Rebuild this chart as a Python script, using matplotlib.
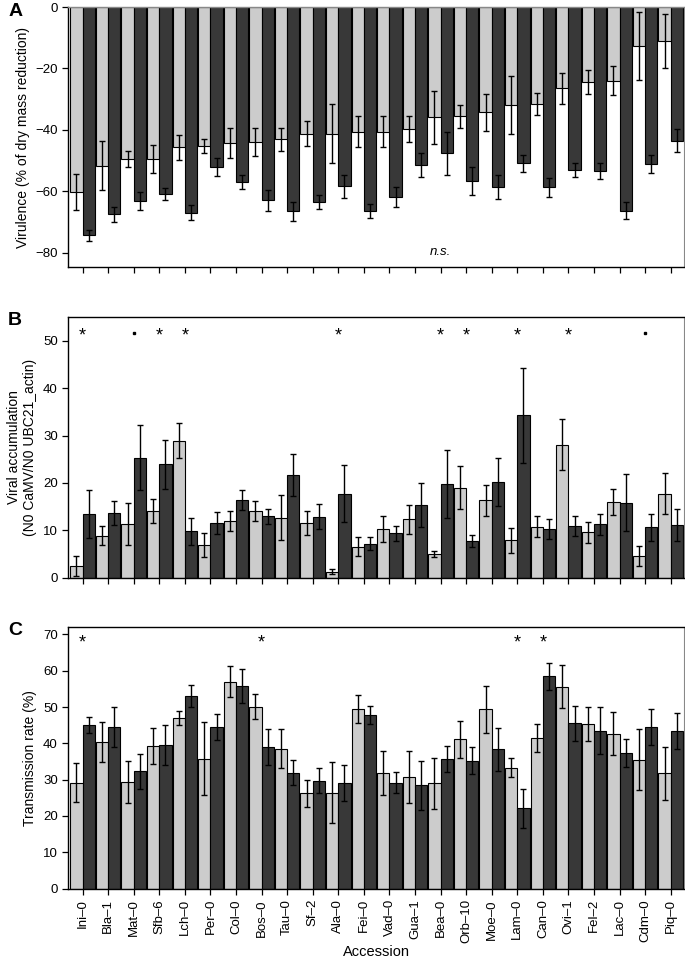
import numpy as np
import matplotlib
matplotlib.use("Agg")
import matplotlib.pyplot as plt

plt.rcParams["font.family"] = ["Liberation Sans", "DejaVu Sans"]

accessions = ["Ini–0", "Bla–1", "Mat–0", "Sfb–6", "Lch–0", "Per–0", "Col–0", "Bos–0",
              "Tau–0", "Sf–2", "Ala–0", "Fei–0", "Vad–0", "Gua–1", "Bea–0", "Orb–10",
              "Moe–0", "Lam–0", "Can–0", "Ovi–1", "Fel–2", "Lac–0", "Cdm–0", "Piq–0"]

# Panel A: virulence
vir_light = [-60.1, -51.6, -49.4, -49.4, -45.7, -45.2, -44.2, -43.9, -43.1, -41.2, -41.2, -40.5,
             -40.5, -39.6, -35.9, -35.6, -34.3, -31.9, -31.6, -26.5, -24.4, -24.0, -12.7, -11.1]
vir_light_err = [5.8, 8.0, 2.6, 4.5, 4.1, 2.4, 4.8, 4.5, 3.8, 4.1, 9.6, 5.1,
                 4.9, 4.3, 8.6, 3.8, 6.0, 9.3, 3.6, 5.0, 4.0, 4.7, 11.1, 8.7]
vir_dark = [-74.3, -67.5, -63.1, -60.9, -66.9, -52.0, -56.9, -62.9, -66.4, -63.5, -58.3, -66.3,
            -61.8, -51.4, -47.6, -56.6, -58.5, -50.9, -58.6, -53.0, -53.3, -66.3, -51.0, -43.5]
vir_dark_err = [1.7, 2.5, 3.0, 2.0, 2.4, 2.9, 2.3, 3.4, 3.1, 2.2, 3.8, 2.3,
                3.4, 4.0, 7.0, 4.5, 3.9, 2.7, 3.1, 2.4, 2.5, 2.8, 2.9, 3.8]

# Panel B: viral accumulation
acc_light = [2.5, 8.9, 11.3, 14.0, 28.9, 6.9, 12.0, 14.0, 12.7, 11.5, 1.3, 6.5,
             10.3, 12.3, 5.0, 19.0, 16.3, 7.9, 10.8, 28.1, 9.6, 16.0, 4.5, 17.7]
acc_light_err = [2.1, 2.0, 4.5, 2.5, 3.7, 2.5, 2.1, 2.1, 4.8, 2.5, 0.5, 2.0,
                 2.7, 3.0, 0.7, 4.6, 3.2, 2.6, 2.3, 5.4, 2.2, 2.7, 2.1, 4.3]
acc_dark = [13.4, 13.6, 25.3, 23.9, 9.8, 11.6, 16.4, 13.0, 21.7, 12.9, 17.7, 7.2,
            9.4, 15.3, 19.7, 7.7, 20.2, 34.3, 10.2, 11.0, 11.3, 15.8, 10.6, 11.1]
acc_dark_err = [5.1, 2.5, 6.9, 5.1, 2.8, 2.3, 2.1, 1.6, 4.5, 2.7, 6.0, 1.4,
                1.6, 4.6, 7.2, 1.3, 5.0, 10.0, 2.1, 2.1, 2.2, 6.0, 2.8, 3.3]
acc_marks = {"Ini–0": "*", "Mat–0": ".", "Sfb–6": "*", "Lch–0": "*", "Ala–0": "*",
             "Bea–0": "*", "Orb–10": "*", "Lam–0": "*", "Ovi–1": "*", "Cdm–0": "."}

# Panel C: transmission rate
tr_light = [29.2, 40.3, 29.4, 39.2, 46.9, 35.8, 57.0, 50.1, 38.5, 26.2, 26.4, 49.4,
            31.9, 30.8, 29.0, 41.1, 49.4, 33.3, 41.4, 55.6, 45.4, 42.7, 35.5, 31.7]
tr_light_err = [5.4, 5.5, 5.7, 5.0, 1.9, 10.0, 4.3, 3.4, 5.4, 3.7, 8.4, 3.8,
                6.1, 7.1, 7.0, 5.0, 6.5, 2.6, 3.8, 5.9, 4.7, 6.0, 8.4, 7.2]
tr_dark = [45.0, 44.6, 32.3, 39.5, 53.1, 44.6, 55.7, 39.0, 31.9, 29.7, 29.0, 47.7,
           29.2, 28.4, 35.6, 35.2, 38.4, 22.1, 58.5, 45.5, 43.5, 37.3, 44.5, 43.4]
tr_dark_err = [2.2, 5.5, 4.9, 5.5, 3.0, 3.6, 4.7, 4.9, 3.5, 3.4, 5.0, 2.5,
               2.8, 6.7, 3.6, 3.7, 5.9, 5.3, 3.7, 4.9, 6.5, 3.8, 5.0, 5.0]
tr_marks = {"Ini–0": "*", "Bos–0": "*", "Lam–0": "*", "Can–0": "*"}

LIGHT = "#cccccc"
DARK = "#383838"
x = np.arange(len(accessions))
w = 0.48


def draw_bars(ax, light, light_err, dark, dark_err):
    kw = dict(width=w, edgecolor="black", linewidth=0.8, zorder=2)
    ax.bar(x - w / 2, light, color=LIGHT, **kw)
    ax.bar(x + w / 2, dark, color=DARK, **kw)
    ekw = dict(fmt="none", ecolor="black", elinewidth=1.0, capsize=2, capthick=1.0, zorder=3)
    ax.errorbar(x - w / 2, light, yerr=light_err, **ekw)
    ax.errorbar(x + w / 2, dark, yerr=dark_err, **ekw)
    ax.set_xlim(-0.56, len(accessions) - 0.48)
    ax.set_xticks(x)
    ax.tick_params(axis="both", direction="out", length=4, width=0.9, labelsize=9.5, colors="black")
    for s in ["left", "bottom", "top"]:
        ax.spines[s].set_linewidth(1.0)
    ax.spines["right"].set_color("#888888")


fig = plt.figure(figsize=(6.85, 9.63), dpi=100)
L, W = 0.0997, 0.8989

# A
axA = fig.add_axes([L, 0.7227, W, 0.27])
draw_bars(axA, vir_light, vir_light_err, vir_dark, vir_dark_err)
axA.set_ylim(-84.6, 0)
axA.set_yticks([0, -20, -40, -60, -80])
axA.set_xticklabels([])
axA.spines["top"].set_color("#888888")
axA.set_ylabel("Virulence (% of dry mass reduction)", fontsize=10)
axA.text(14, -79.7, "n.s.", style="italic", fontsize=9.5, ha="center", va="center")
fig.text(0.012, 0.988, "A", fontsize=14, fontweight="bold", va="center")

# B
axB = fig.add_axes([L, 0.4001, W, 0.2707])
draw_bars(axB, acc_light, acc_light_err, acc_dark, acc_dark_err)
axB.set_ylim(0, 55)
axB.set_yticks(range(0, 51, 10))
axB.set_xticklabels([])
axB.set_ylabel("Viral accumulation\n(N0 CaMV/N0 UBC21_actin)", fontsize=10)
for name, m in acc_marks.items():
    i = accessions.index(name)
    if m == "*":
        axB.text(i, 51, "*", fontsize=13, ha="center", va="center")
    else:
        axB.plot(i, 51.6, "s", color="black", markersize=1.6)
fig.text(0.012, 0.667, "B", fontsize=14, fontweight="bold", va="center")

# C
axC = fig.add_axes([L, 0.0772, W, 0.272])
draw_bars(axC, tr_light, tr_light_err, tr_dark, tr_dark_err)
axC.set_ylim(0, 72.1)
axC.set_yticks(range(0, 71, 10))
axC.set_xticklabels(accessions, rotation=90, fontsize=9.5)
axC.set_ylabel("Transmission rate (%)", fontsize=10)
axC.set_xlabel("Accession", fontsize=10.5, labelpad=1)
for name, m in tr_marks.items():
    axC.text(accessions.index(name), 67.6, m, fontsize=13, ha="center", va="center")
fig.text(0.012, 0.345, "C", fontsize=14, fontweight="bold", va="center")

fig.savefig("out.png", dpi=100)
